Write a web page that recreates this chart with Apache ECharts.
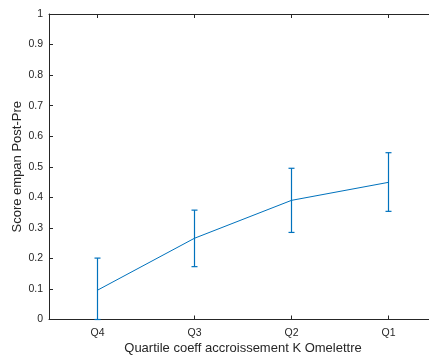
<!DOCTYPE html>
<html>
<head>
<meta charset="utf-8">
<script src="https://cdn.jsdelivr.net/npm/echarts@6/dist/echarts.min.js"></script>
<style>html,body{margin:0;padding:0;background:#fff}#c{width:429px;height:356px}</style>
</head>
<body>
<div id="c"></div>
<script>
var categories = ['Q4', 'Q3', 'Q2', 'Q1'];
var means = [0.096, 0.266, 0.390, 0.449];
var lows = [0.0, 0.173, 0.285, 0.354];
var highs = [0.201, 0.358, 0.495, 0.546];
var yTicks = [0, 0.1, 0.2, 0.3, 0.4, 0.5, 0.6, 0.7, 0.8, 0.9, 1];

var blue = '#0072BD';
var axisCol = '#262626';
var font = '"Liberation Sans", Arial, Helvetica, sans-serif';

var errData = categories.map(function (c, i) { return [i, lows[i], highs[i]]; });

var chart = echarts.init(document.getElementById('c'), null, {renderer: 'canvas'});
chart.setOption({
  animation: false,
  backgroundColor: '#fff',
  grid: {left: 49, top: 14, width: 388, height: 305.5, containLabel: false, outerBoundsMode: 'none'},
  xAxis: [{
    type: 'category',
    data: categories,
    boundaryGap: true,
    position: 'bottom',
    name: 'Quartile coeff accroissement K Omelettre',
    nameLocation: 'middle',
    nameGap: 22,
    nameMoveOverlap: false,
    nameTextStyle: {color: axisCol, fontSize: 13, fontFamily: font},
    axisLine: {show: true, lineStyle: {color: axisCol, width: 1}},
    axisTick: {show: true, inside: true, alignWithLabel: true, length: 4, lineStyle: {color: axisCol}},
    axisLabel: {color: axisCol, fontSize: 10.5, fontFamily: font, margin: 8},
    splitLine: {show: false}
  }, {
    type: 'category',
    data: categories,
    boundaryGap: true,
    position: 'top',
    axisLine: {show: true, lineStyle: {color: axisCol, width: 1}},
    axisTick: {show: true, inside: true, alignWithLabel: true, length: 4, lineStyle: {color: axisCol}},
    axisLabel: {show: false},
    splitLine: {show: false}
  }],
  yAxis: [{
    type: 'value',
    min: yTicks[0],
    max: yTicks[yTicks.length - 1],
    interval: 0.1,
    name: 'Score empan Post-Pre',
    nameLocation: 'middle',
    nameGap: 25,
    nameMoveOverlap: false,
    nameRotate: 90,
    nameTextStyle: {color: axisCol, fontSize: 13, fontFamily: font},
    axisLine: {show: true, lineStyle: {color: axisCol, width: 1}},
    axisTick: {show: true, inside: true, length: 4, lineStyle: {color: axisCol}},
    axisLabel: {color: axisCol, fontSize: 10.5, fontFamily: font, margin: 6,
      formatter: function (v) { return String(Math.round(v * 10) / 10); }},
    splitLine: {show: false}
  }],
  series: [{
    type: 'line',
    data: means,
    symbol: 'none',
    lineStyle: {color: blue, width: 1},
    z: 3
  }, {
    type: 'custom',
    data: errData,
    z: 4,
    renderItem: function (params, api) {
      var x = api.value(0);
      var lo = api.coord([x, api.value(1)]);
      var hi = api.coord([x, api.value(2)]);
      var cw = 3;
      var st = {stroke: blue, lineWidth: 1.2};
      return {
        type: 'group',
        children: [
          {type: 'line', shape: {x1: lo[0], y1: lo[1], x2: hi[0], y2: hi[1]}, style: st},
          {type: 'line', shape: {x1: hi[0] - cw, y1: hi[1], x2: hi[0] + cw, y2: hi[1]}, style: st},
          {type: 'line', shape: {x1: lo[0] - cw, y1: lo[1], x2: lo[0] + cw, y2: lo[1]}, style: st}
        ]
      };
    }
  }]
});
</script>
</body>
</html>
